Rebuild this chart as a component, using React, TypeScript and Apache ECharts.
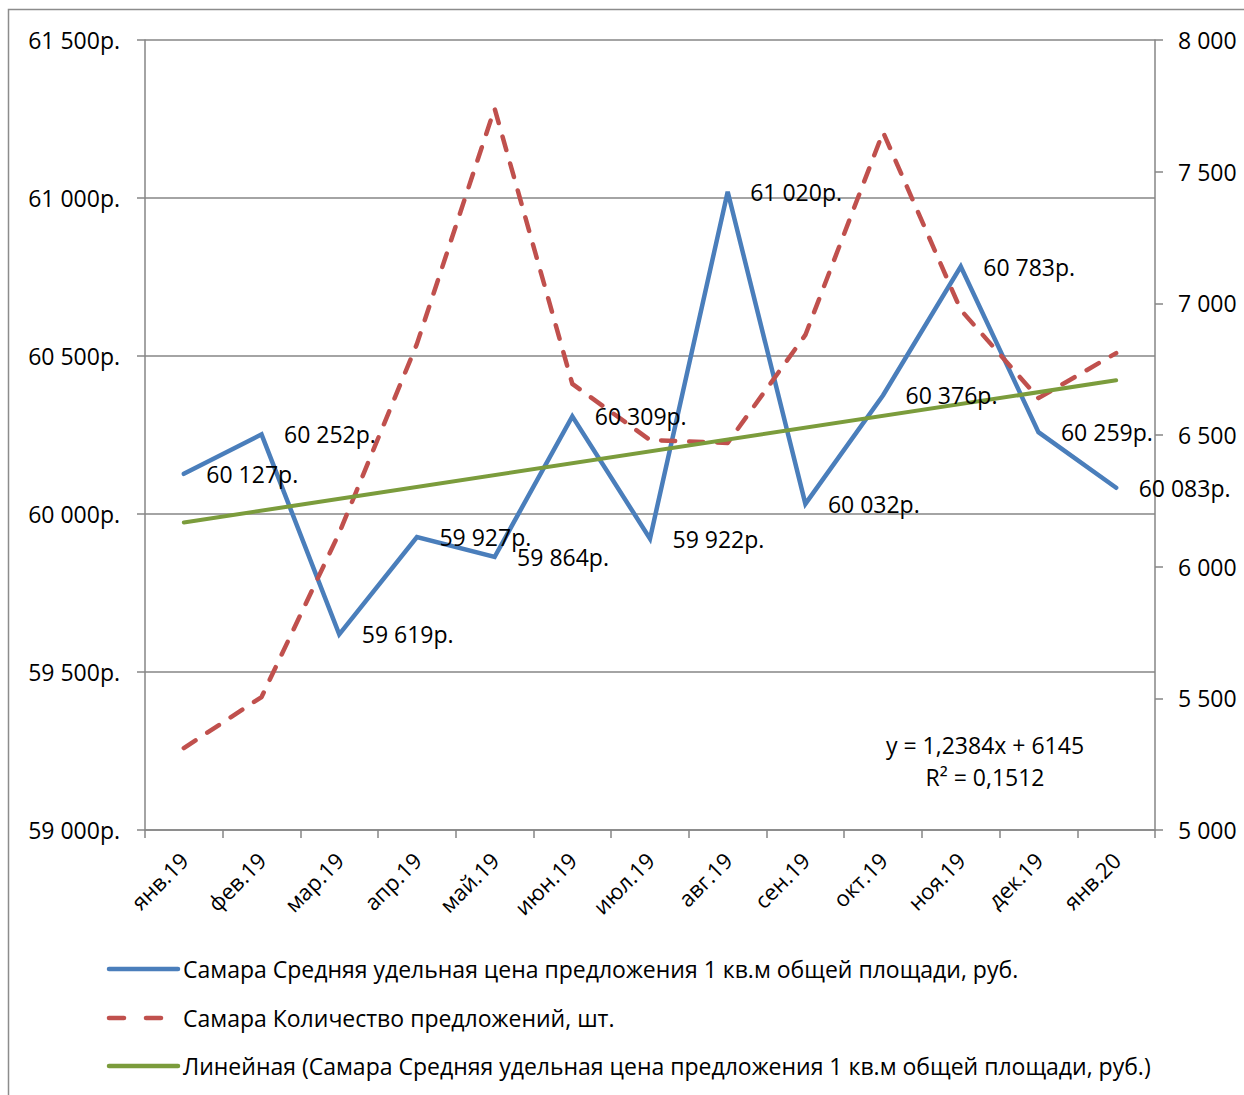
import React, { useEffect, useRef } from "react";
import * as echarts from "echarts";

const categories = [
  "янв.19", "фев.19", "мар.19", "апр.19", "май.19", "июн.19", "июл.19",
  "авг.19", "сен.19", "окт.19", "ноя.19", "дек.19", "янв.20",
];
const priceValues = [60127, 60252, 59619, 59927, 59864, 60309, 59922, 61020, 60032, 60376, 60783, 60259, 60083];
const offerCounts = [5311, 5505, 6128, 6846, 7740, 6694, 6481, 6470, 6880, 7650, 6975, 6640, 6811];
const trendEnds = [59973, 60423];
const seriesNames = [
  "Самара Средняя удельная цена предложения 1 кв.м общей площади, руб.",
  "Самара Количество предложений, шт.",
  "Линейная (Самара Средняя удельная цена предложения 1 кв.м общей площади, руб.)",
];
const equationLines = ["y = 1,2384x + 6145", "R² = 0,1512"];

const FONT = "'Open Sans', sans-serif";
const FS = 23;
const BLUE = "#4a7ebb";
const RED = "#c0504d";
const GREEN = "#7b9c3c";
const fmt = (n: number) => String(n).replace(/\B(?=(\d{3})+(?!\d))/g, " ");

export default function App() {
  const ref = useRef<HTMLDivElement>(null);
  useEffect(() => {
    document.body.style.margin = "0";
    const chart = echarts.init(ref.current!, null, { renderer: "svg" });
    const last = categories.length - 1;
    const trendData = categories.map((_, i) =>
      i === 0 ? trendEnds[0] : i === last ? trendEnds[1] : null
    );
    const axisGray = "#868686";
    const legendColors = [BLUE, RED, GREEN];
    const legendRowsY = [969, 1018, 1066];
    const legendGraphics: any[] = [];
    seriesNames.forEach((name, i) => {
      legendGraphics.push({
        type: "line",
        shape: { x1: 109, y1: legendRowsY[i], x2: 178, y2: legendRowsY[i] },
        style: {
          stroke: legendColors[i],
          lineWidth: 4.5,
          lineCap: "round",
          lineDash: i === 1 ? [15, 22] : null,
        },
        silent: true,
      });
      legendGraphics.push({
        type: "text",
        x: 183,
        y: legendRowsY[i],
        style: {
          text: name,
          font: `${FS}px ${FONT}`,
          fill: "#000",
          textAlign: "left",
          textVerticalAlign: "middle",
        },
        silent: true,
      });
    });
    chart.setOption({
      animation: false,
      backgroundColor: "#ffffff",
      textStyle: { fontFamily: FONT },
      grid: { left: 145, right: 89, top: 40, bottom: 265, containLabel: false },
      xAxis: {
        type: "category",
        data: categories,
        boundaryGap: true,
        axisLine: { lineStyle: { color: axisGray, width: 1.5 } },
        axisTick: { show: true, interval: 0, length: 8, lineStyle: { color: axisGray, width: 1.5 } },
        axisLabel: {
          interval: 0,
          rotate: 45,
          margin: 26,
          fontFamily: FONT,
          fontSize: 22,
          color: "#000",
        },
      },
      yAxis: [
        {
          type: "value",
          min: 59000,
          max: 61500,
          interval: 500,
          position: "left",
          axisLine: { show: true, lineStyle: { color: axisGray, width: 1.5 } },
          axisTick: { show: true, length: 8, lineStyle: { color: axisGray, width: 1.5 } },
          splitLine: { show: true, lineStyle: { color: axisGray, width: 1.5 } },
          axisLabel: {
            margin: 25,
            fontFamily: FONT,
            fontSize: FS,
            color: "#000",
            formatter: (v: number) => fmt(v) + "р.",
          },
        },
        {
          type: "value",
          min: 5000,
          max: 8000,
          interval: 500,
          position: "right",
          axisLine: { show: true, lineStyle: { color: axisGray, width: 1.5 } },
          axisTick: { show: true, length: 8, lineStyle: { color: axisGray, width: 1.5 } },
          splitLine: { show: false },
          axisLabel: {
            margin: 23,
            fontFamily: FONT,
            fontSize: FS,
            color: "#000",
            formatter: (v: number) => fmt(v),
          },
        },
      ],
      series: [
        {
          name: seriesNames[0],
          type: "line",
          yAxisIndex: 0,
          data: priceValues,
          symbol: "none",
          z: 2,
          lineStyle: { color: BLUE, width: 4.5, cap: "round", join: "miter" },
          itemStyle: { color: BLUE },
        },
        {
          name: seriesNames[1],
          type: "line",
          yAxisIndex: 1,
          data: offerCounts,
          symbol: "none",
          smooth: false,
          z: 3,
          lineStyle: { color: RED, width: 4.5, type: [14, 14], cap: "round", join: "round" },
          itemStyle: { color: RED },
        },
        {
          name: seriesNames[2],
          type: "line",
          yAxisIndex: 0,
          data: trendData,
          connectNulls: true,
          symbol: "none",
          z: 4,
          lineStyle: { color: GREEN, width: 4, cap: "round" },
          itemStyle: { color: GREEN },
        },
        {
          name: "labels",
          type: "scatter",
          yAxisIndex: 0,
          data: priceValues,
          symbol: "circle",
          symbolSize: 1,
          z: 5,
          itemStyle: { color: "rgba(0,0,0,0)", opacity: 1 },
          label: {
            show: true,
            position: "right",
            distance: 22,
            offset: [0, 0],
            fontFamily: FONT,
            fontSize: FS,
            color: "#000",
            opacity: 1,
            formatter: (p: any) => fmt(p.value) + "р.",
          },
        },
      ],
      graphic: [
        {
          type: "rect",
          shape: { x: 8.5, y: 9.5, width: 1300, height: 1200 },
          style: { fill: "none", stroke: "#8c8c8c", lineWidth: 1.5 },
          silent: true,
          z: -1,
        },
        {
          type: "text",
          x: 985,
          y: 745,
          style: {
            text: equationLines[0],
            font: `${FS}px ${FONT}`,
            fill: "#000",
            textAlign: "center",
            textVerticalAlign: "middle",
          },
        },
        {
          type: "text",
          x: 985,
          y: 777,
          style: {
            text: equationLines[1],
            font: `${FS}px ${FONT}`,
            fill: "#000",
            textAlign: "center",
            textVerticalAlign: "middle",
          },
        },
        ...legendGraphics,
      ],
    });
    return () => chart.dispose();
  }, []);
  return <div ref={ref} style={{ width: 1244, height: 1095 }} />;
}
